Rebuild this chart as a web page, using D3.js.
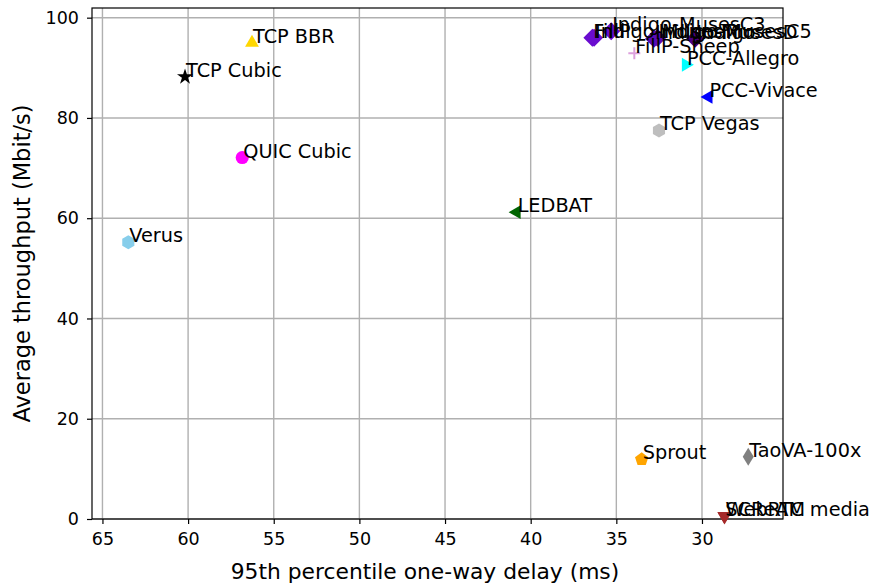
<!DOCTYPE html>
<html>
<head>
<meta charset="utf-8">
<script src="https://cdn.jsdelivr.net/npm/d3@7"></script>
<style>
  body { margin: 0; background: #fff; }
  svg { font-family: 'DejaVu Sans', sans-serif; }
</style>
</head>
<body>
<svg id="main_svg" width="875" height="588"></svg>
<script>
// scheme names, 95th percentile delay (ms), average throughput (Mbit/s)
const schemes = ['Verus', 'TCP Cubic', 'TCP BBR', 'QUIC Cubic', 'LEDBAT',
  'FillP', 'Indigo-MusesT', 'Indigo-MusesC3', 'FillP-Sheep', 'Indigo-MusesD',
  'Indigo-MusesC5', 'TCP Vegas', 'Indigo', 'PCC-Allegro', 'PCC-Vivace',
  'Sprout', 'TaoVA-100x', 'SCReAM', 'WebRTC media'];
const delays = [63.49, 60.18, 56.27, 56.84, 40.82,
  36.4, 36.3, 35.3, 33.95, 32.8,
  32.6, 32.51, 30.4, 30.94, 29.62,
  33.52, 27.30, 28.70, 28.68];
const throughputs = [55.2, 88.2, 95.0, 72.1, 61.2,
  96.0, 96.0, 97.3, 92.9, 95.8,
  96.0, 77.5, 95.8, 90.6, 84.2,
  11.9, 12.4, 0.6, 0.5];

const xTicks = [65, 60, 55, 50, 45, 40, 35, 30];
const yTicks = [0, 20, 40, 60, 80, 100];

// marker look for each scheme
const markerStyle = {
  'Verus': { shape: 'hexagon', color: '#87ceeb' },
  'TCP Cubic': { shape: 'star', color: '#000000' },
  'TCP BBR': { shape: 'triUp', color: '#ffd700' },
  'QUIC Cubic': { shape: 'circle', color: '#ff00ff' },
  'LEDBAT': { shape: 'triLeft', color: '#006400' },
  'FillP': { shape: 'diamond', color: '#6a0dcf' },
  'Indigo-MusesT': { shape: 'diamond', color: '#6a0dcf' },
  'Indigo-MusesC3': { shape: 'diamond', color: '#6a0dcf' },
  'FillP-Sheep': { shape: 'plus', color: '#dda0dd' },
  'Indigo-MusesD': { shape: 'diamond', color: '#5a0cb8' },
  'Indigo-MusesC5': { shape: 'diamond', color: '#5a0cb8' },
  'TCP Vegas': { shape: 'hexagon', color: '#bebebe' },
  'Indigo': { shape: 'diamond', color: '#4b0082' },
  'PCC-Allegro': { shape: 'triRight', color: '#00ffff' },
  'PCC-Vivace': { shape: 'triLeft', color: '#0000ff' },
  'Sprout': { shape: 'pentagon', color: '#ffa500' },
  'TaoVA-100x': { shape: 'thinDiamond', color: '#808080' },
  'SCReAM': { shape: 'triDown', color: '#a52a2a' },
  'WebRTC media': { shape: 'triDown', color: '#a52a2a' }
};

const margin = { left: 92, right: 783, top: 8, bottom: 519 };

const x = d3.scaleLinear().domain([65.61, 25.27]).range([margin.left, margin.right]);
const y = d3.scaleLinear().domain([0, 101.93]).range([margin.bottom, margin.top]);

const svg = d3.select('#main_svg');

// grid lines
svg.append('g')
  .selectAll('line.vgrid')
  .data(xTicks)
  .enter()
  .append('line')
  .attr('x1', d => x(d)).attr('x2', d => x(d))
  .attr('y1', margin.top).attr('y2', margin.bottom)
  .attr('stroke', '#b0b0b0').attr('stroke-width', 1.4);

svg.append('g')
  .selectAll('line.hgrid')
  .data(yTicks)
  .enter()
  .append('line')
  .attr('y1', d => y(d)).attr('y2', d => y(d))
  .attr('x1', margin.left).attr('x2', margin.right)
  .attr('stroke', '#b0b0b0').attr('stroke-width', 1.4);

// axes
const xAxis = d3.axisBottom(x).tickValues(xTicks).tickSize(5).tickPadding(9);
const yAxis = d3.axisLeft(y).tickValues(yTicks).tickSize(5).tickPadding(8);

const gx = svg.append('g')
  .attr('transform', 'translate(0,' + margin.bottom + ')')
  .call(xAxis);
const gy = svg.append('g')
  .attr('transform', 'translate(' + margin.left + ',0)')
  .call(yAxis);

[gx, gy].forEach(function(g) {
  g.select('.domain').remove();
  g.selectAll('line').attr('stroke', '#000').attr('stroke-width', 1.2);
  g.selectAll('text')
    .attr('fill', '#000')
    .style('font-size', '17.5px')
    .style('font-family', 'DejaVu Sans');
});

// frame
svg.append('rect')
  .attr('x', margin.left).attr('y', margin.top)
  .attr('width', margin.right - margin.left)
  .attr('height', margin.bottom - margin.top)
  .attr('fill', 'none').attr('stroke', '#000').attr('stroke-width', 1.2);

// axis titles
svg.append('text')
  .text('95th percentile one-way delay (ms)')
  .attr('x', 425)
  .attr('y', 579)
  .attr('text-anchor', 'middle')
  .style('font-size', '21.8px');

svg.append('g')
  .attr('transform', 'translate(30,' + (margin.top + margin.bottom) / 2 + ')')
  .append('text')
  .text('Average throughput (Mbit/s)')
  .attr('transform', 'rotate(-90)')
  .attr('text-anchor', 'middle')
  .style('font-size', '22.5px');

// marker shapes
function polygon(n, r, rot) {
  let pts = [];
  for (let i = 0; i < n; i++) {
    let a = rot + i * 2 * Math.PI / n;
    pts.push([r * Math.sin(a), -r * Math.cos(a)]);
  }
  return 'M' + pts.map(p => p[0].toFixed(2) + ',' + p[1].toFixed(2)).join('L') + 'Z';
}

function markerPath(shape) {
  switch (shape) {
    case 'circle': return d3.symbol(d3.symbolCircle, 135)();
    case 'star': return d3.symbol(d3.symbolStar, 80)();
    case 'triUp': return polygon(3, 8, 0);
    case 'triDown': return polygon(3, 8, Math.PI);
    case 'triLeft': return polygon(3, 8, -Math.PI / 2);
    case 'triRight': return polygon(3, 8, Math.PI / 2);
    case 'hexagon': return polygon(6, 7, 0);
    case 'pentagon': return polygon(5, 7, 0);
    case 'diamond': return 'M0,-9L9,0L0,9L-9,0Z';
    case 'thinDiamond': return 'M0,-9L5.5,0L0,9L-5.5,0Z';
    case 'plus': return 'M-6,0L6,0M0,-6L0,6';
  }
}

const points = schemes.map((name, i) => ({ name: name, delay: delays[i], tput: throughputs[i] }));

svg.append('g')
  .selectAll('path')
  .data(points)
  .enter()
  .append('path')
  .attr('d', d => markerPath(markerStyle[d.name].shape))
  .attr('transform', d => 'translate(' + x(d.delay) + ',' + y(d.tput) + ')')
  .attr('fill', d => markerStyle[d.name].shape === 'plus' ? 'none' : markerStyle[d.name].color)
  .attr('stroke', d => markerStyle[d.name].shape === 'plus' ? markerStyle[d.name].color : 'none')
  .attr('stroke-width', 2);

// labels: left aligned, baseline on the point
svg.append('g')
  .selectAll('text')
  .data(points)
  .enter()
  .append('text')
  .text(d => d.name)
  .attr('x', d => x(d.delay) + 1)
  .attr('y', d => y(d.tput))
  .style('font-size', '19.3px')
  .attr('fill', '#000');
</script>
</body>
</html>
